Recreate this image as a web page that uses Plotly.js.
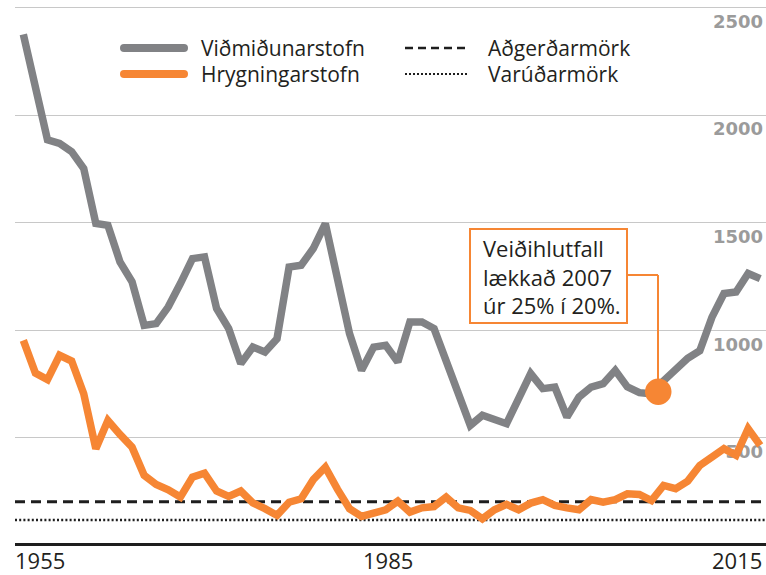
<!DOCTYPE html>
<html>
<head>
<meta charset="utf-8">
<script src="https://cdn.plot.ly/plotly-3.0.1.min.js"></script>
<style>
  html, body { margin: 0; padding: 0; background: #fff; }
  #chart { width: 766px; height: 575px; }
</style>
</head>
<body>
<div id="chart"></div>
<script>
// ---------- DATA ----------
const years = [1955,1956,1957,1958,1959,1960,1961,1962,1963,1964,1965,1966,1967,1968,1969,1970,
  1971,1972,1973,1974,1975,1976,1977,1978,1979,1980,1981,1982,1983,1984,1985,1986,1987,1988,1989,1990,
  1991,1992,1993,1994,1995,1996,1997,1998,1999,2000,2001,2002,2003,2004,2005,2006,2007,2008,2009,2010,
  2011,2012,2013,2014,2015,2016];

// Viðmiðunarstofn (reference biomass, kt)
const vidmidunarstofn = [2375,2130,1885,1868,1830,1752,1497,1488,1318,1225,1023,1031,1109,1217,1333,1341,
  1101,1008,845,922,899,961,1294,1302,1380,1496,1240,985,814,922,930,853,1039,1039,1008,860,
  705,558,605,586,566,683,799,729,736,597,690,736,752,814,737,710,705,765,822,870,
  905,1060,1171,1178,1264,1240];

// Hrygningarstofn (spawning stock, kt)
const hrygningarstofn = [953,801,771,884,857,705,450,581,516,457,326,284,259,225,318,336,
  253,228,253,198,171,140,201,217,306,364,262,171,135,147,166,206,155,175,181,225,
  175,163,124,166,191,166,197,213,186,175,166,213,201,213,240,237,209,279,264,299,
  372,411,450,419,543,465];

const adgerdarmork = 203;   // Aðgerðarmörk
const varudarmork = 118;    // Varúðarmörk

const seriesNames = ["Viðmiðunarstofn", "Hrygningarstofn"];
const limitNames = ["Aðgerðarmörk", "Varúðarmörk"];
const yTickVals = [500, 1000, 1500, 2000, 2500];
const xTickVals = [1955, 1985, 2015];
const xTickLabels = ["1955", "1985", "2015"];
const calloutLines = ["Veiðihlutfall", "lækkað 2007", "úr 25% í 20%."];

// ---------- STYLE / LAYOUT ----------
const GRAY = "#818285", ORANGE = "#f68634", DARK = "#1e1e1e";
const W = 766, H = 575;
const M = {l: 15, r: 0, t: 0, b: 32};
const xRange = [1954.31, 2016.48];
const yRange = [11.6, 2534.8];

const L = M.l, R = W - M.r, T = M.t, B = H - M.b;
const px = x => (x - L) / (R - L);
const py = y => (B - y) / (B - T);

const traces = [
  {x: years, y: vidmidunarstofn, name: seriesNames[0], type: "scatter", mode: "lines",
   line: {color: GRAY, width: 7.5}, showlegend: false, hoverinfo: "x+y"},
  {x: years, y: hrygningarstofn, name: seriesNames[1], type: "scatter", mode: "lines",
   line: {color: ORANGE, width: 7.5}, showlegend: false, hoverinfo: "x+y"}
];

const shapes = [
  // limit lines
  {type: "line", xref: "paper", yref: "y", x0: 0, x1: 1, y0: adgerdarmork, y1: adgerdarmork,
   line: {color: DARK, width: 3, dash: "10px,6px"}, layer: "below"},
  {type: "line", xref: "paper", yref: "y", x0: 0, x1: 1, y0: varudarmork, y1: varudarmork,
   line: {color: DARK, width: 2.5, dash: "2px,2.2px"}, layer: "below"},
  // legend symbols
  {type: "line", xref: "paper", yref: "paper", x0: px(124), x1: px(184), y0: py(48), y1: py(48),
   line: {color: GRAY, width: 8}},
  {type: "circle", xref: "paper", yref: "paper", x0: px(120), x1: px(128), y0: py(44), y1: py(52),
   fillcolor: GRAY, line: {width: 0}},
  {type: "circle", xref: "paper", yref: "paper", x0: px(180), x1: px(188), y0: py(44), y1: py(52),
   fillcolor: GRAY, line: {width: 0}},
  {type: "line", xref: "paper", yref: "paper", x0: px(124), x1: px(184), y0: py(74), y1: py(74),
   line: {color: ORANGE, width: 8}},
  {type: "circle", xref: "paper", yref: "paper", x0: px(120), x1: px(128), y0: py(70), y1: py(78),
   fillcolor: ORANGE, line: {width: 0}},
  {type: "circle", xref: "paper", yref: "paper", x0: px(180), x1: px(188), y0: py(70), y1: py(78),
   fillcolor: ORANGE, line: {width: 0}},
  {type: "line", xref: "paper", yref: "paper", x0: px(405), x1: px(468), y0: py(48), y1: py(48),
   line: {color: DARK, width: 2.5, dash: "8px,5px"}},
  {type: "line", xref: "paper", yref: "paper", x0: px(405), x1: px(468), y0: py(74), y1: py(74),
   line: {color: DARK, width: 2, dash: "2px,2px"}},
  // callout box and connector
  {type: "rect", xref: "paper", yref: "paper", x0: px(470), x1: px(627), y0: py(229), y1: py(323),
   line: {color: ORANGE, width: 2}, fillcolor: "#ffffff"},
  {type: "line", xref: "paper", yref: "paper", x0: px(627), x1: px(658), y0: py(275), y1: py(275),
   line: {color: ORANGE, width: 2}},
  {type: "line", xref: "paper", yref: "paper", x0: px(658), x1: px(658), y0: py(275), y1: py(392),
   line: {color: ORANGE, width: 2}},
  {type: "circle", xref: "paper", yref: "paper", x0: px(645), x1: px(671.5), y0: py(378.5), y1: py(405),
   fillcolor: ORANGE, line: {width: 0}}
];

const TXT = {family: "Open Sans, sans-serif", size: 21, color: "#231f20"};
const TXT_BIG = {family: "Open Sans, sans-serif", size: 22, color: "#231f20"};
const annotations = [
  {xref: "paper", yref: "paper", x: px(199), y: py(48), xanchor: "left", yanchor: "middle",
   text: seriesNames[0], showarrow: false, font: TXT},
  {xref: "paper", yref: "paper", x: px(199), y: py(74), xanchor: "left", yanchor: "middle",
   text: seriesNames[1], showarrow: false, font: TXT},
  {xref: "paper", yref: "paper", x: px(486), y: py(48), xanchor: "left", yanchor: "middle",
   text: limitNames[0], showarrow: false, font: TXT},
  {xref: "paper", yref: "paper", x: px(486), y: py(74), xanchor: "left", yanchor: "middle",
   text: limitNames[1], showarrow: false, font: TXT},
  {xref: "paper", yref: "paper", x: px(481), y: py(276), xanchor: "left", yanchor: "middle",
   align: "left", text: calloutLines.join("<br>"), showarrow: false, font: TXT_BIG},
  {xref: "x", yref: "paper", x: xTickVals[0], xshift: -10, y: py(560), xanchor: "left", yanchor: "middle",
   text: xTickLabels[0], showarrow: false, font: TXT_BIG},
  {xref: "x", yref: "paper", x: xTickVals[1], xshift: 2, y: py(560), xanchor: "center", yanchor: "middle",
   text: xTickLabels[1], showarrow: false, font: TXT_BIG},
  {xref: "x", yref: "paper", x: xTickVals[2], xshift: -11, y: py(560), xanchor: "center", yanchor: "middle",
   text: xTickLabels[2], showarrow: false, font: TXT_BIG}
];

const layout = {
  width: W, height: H,
  margin: M,
  paper_bgcolor: "#ffffff", plot_bgcolor: "#ffffff",
  showlegend: false,
  xaxis: {range: xRange, showgrid: false, zeroline: false, showline: true, linecolor: DARK,
    linewidth: 3, ticks: "", showticklabels: false, fixedrange: true},
  yaxis: {range: yRange, side: "right", tickvals: yTickVals, ticktext: yTickVals.map(String),
    showgrid: true, gridcolor: "#c8c8c8", gridwidth: 1, zeroline: false, showline: false,
    ticks: "", ticklabelposition: "inside", ticklabelshift: 14, layer: "below traces",
    tickfont: {family: "DejaVu Sans, sans-serif", size: 18, color: "#9b9b9b", weight: "bold"},
    fixedrange: true},
  shapes: shapes,
  annotations: annotations
};

Plotly.newPlot("chart", traces, layout, {displayModeBar: false, staticPlot: true});
</script>
</body>
</html>
